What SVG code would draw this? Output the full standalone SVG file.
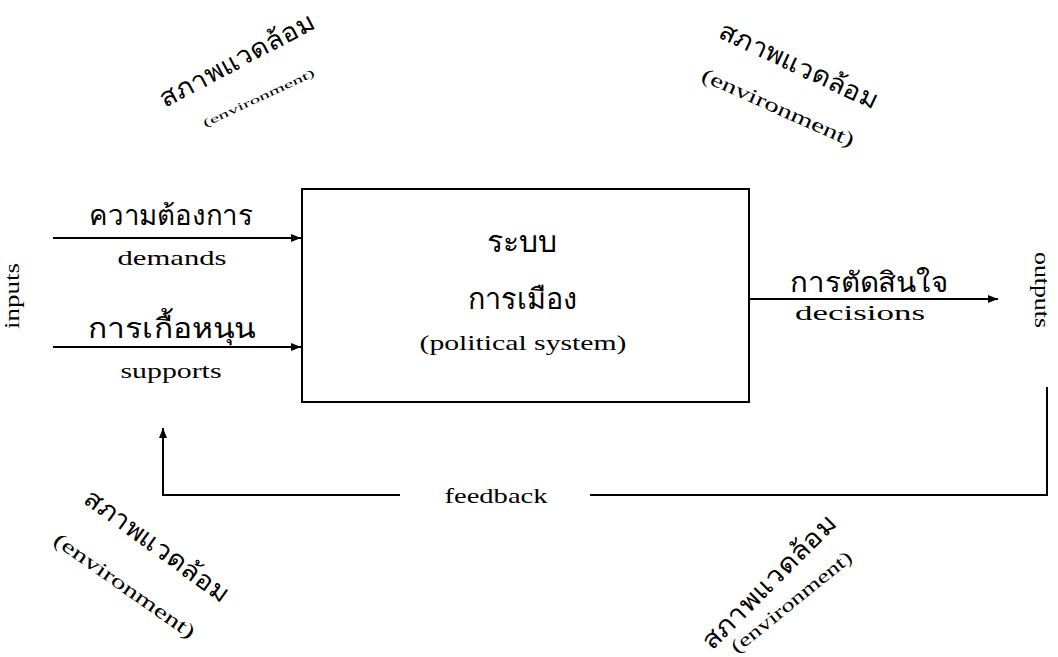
<svg xmlns="http://www.w3.org/2000/svg" width="1058" height="657" viewBox="0 0 1058 657">
<style>
.th{font-family:"Noto Sans","DejaVu Sans",sans-serif;fill:#000}
.en{font-family:"Liberation Serif","DejaVu Serif",serif;fill:#000}
.ln{stroke:#000;stroke-width:2;fill:none}
</style>
<defs>
<marker id="ah" viewBox="0 0 10 8" refX="10" refY="4" markerWidth="10" markerHeight="8" markerUnits="userSpaceOnUse" orient="auto">
<path d="M0,0 L10,4 L0,8 Z" fill="#000"/>
</marker>
</defs>
<rect width="1058" height="657" fill="#fff"/>
<g id="connectors">
<line class="ln" x1="53" y1="238" x2="301" y2="238" marker-end="url(#ah)"/>
<line class="ln" x1="53" y1="347" x2="301" y2="347" marker-end="url(#ah)"/>
<line class="ln" x1="749" y1="299" x2="998" y2="299" marker-end="url(#ah)"/>
<path class="ln" d="M1047,387 V495 H590"/>
<path class="ln" d="M400,495 H163 V428" marker-end="url(#ah)"/>
</g>
<g id="political-system">
<rect x="302" y="189" width="447" height="213" fill="#fff" stroke="#000" stroke-width="2"/>
<text class="th" x="522" y="252" font-size="30" text-anchor="middle" textLength="70" lengthAdjust="spacingAndGlyphs">ระบบ</text>
<text class="th" x="522" y="309" font-size="29" text-anchor="middle" textLength="109" lengthAdjust="spacingAndGlyphs">การเมือง</text>
<text class="en" x="523" y="350" font-size="22" text-anchor="middle" textLength="207" lengthAdjust="spacingAndGlyphs">(political system)</text>
</g>
<g id="demands">
<text class="th" x="171" y="225" font-size="28" text-anchor="middle" textLength="164" lengthAdjust="spacingAndGlyphs">ความต้องการ</text>
<text class="en" x="172" y="265" font-size="22" text-anchor="middle" textLength="109" lengthAdjust="spacingAndGlyphs">demands</text>
</g>
<g id="supports">
<text class="th" x="172" y="338" font-size="28" text-anchor="middle" textLength="168" lengthAdjust="spacingAndGlyphs">การเกื้อหนุน</text>
<text class="en" x="171" y="378" font-size="22" text-anchor="middle" textLength="101" lengthAdjust="spacingAndGlyphs">supports</text>
</g>
<g id="decisions">
<text class="th" x="869" y="292" font-size="28" text-anchor="middle" textLength="158" lengthAdjust="spacingAndGlyphs">การตัดสินใจ</text>
<text class="en" x="860" y="320" font-size="22" text-anchor="middle" textLength="130" lengthAdjust="spacingAndGlyphs">decisions</text>
</g>
<g id="inputs">
<text class="en" transform="translate(19,296) rotate(-90)" font-size="22" text-anchor="middle" textLength="66" lengthAdjust="spacingAndGlyphs">inputs</text>
</g>
<g id="outputs">
<text class="en" transform="translate(1035,290) rotate(90)" font-size="22" text-anchor="middle" textLength="76" lengthAdjust="spacingAndGlyphs">outputs</text>
</g>
<g id="feedback">
<text class="en" x="496" y="503" font-size="22" text-anchor="middle" textLength="103" lengthAdjust="spacingAndGlyphs">feedback</text>
</g>
<g id="env-top-left">
<text class="th" transform="translate(165,108) rotate(-28)" font-size="26" textLength="172" lengthAdjust="spacingAndGlyphs">สภาพแวดล้อม</text>
<text class="en" transform="translate(205,127) rotate(-25)" font-size="11" textLength="122" lengthAdjust="spacingAndGlyphs">(environment)</text>
</g>
<g id="env-top-right">
<text class="th" transform="translate(717,37) rotate(25)" font-size="26" textLength="172" lengthAdjust="spacingAndGlyphs">สภาพแวดล้อม</text>
<text class="en" transform="translate(700,80) rotate(24)" font-size="20" textLength="165" lengthAdjust="spacingAndGlyphs">(environment)</text>
</g>
<g id="env-bottom-left">
<text class="th" transform="translate(82,502) rotate(36)" font-size="26" textLength="172" lengthAdjust="spacingAndGlyphs">สภาพแวดล้อม</text>
<text class="en" transform="translate(52,543) rotate(35)" font-size="20" textLength="168" lengthAdjust="spacingAndGlyphs">(environment)</text>
</g>
<g id="env-bottom-right">
<text class="th" transform="translate(712,651) rotate(-45)" font-size="26" textLength="178" lengthAdjust="spacingAndGlyphs">สภาพแวดล้อม</text>
<text class="en" transform="translate(737,654) rotate(-39)" font-size="19" textLength="150" lengthAdjust="spacingAndGlyphs">(environment)</text>
</g>
</svg>
